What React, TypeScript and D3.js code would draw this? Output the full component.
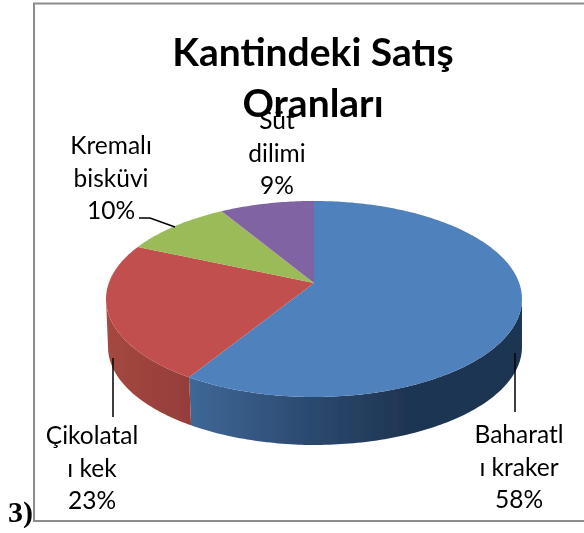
import React from "react";
import * as d3 from "d3";

const categories = ["Baharatlı kraker", "Çikolatalı kek", "Kremalı bisküvi", "Süt dilimi"];
const shares = [58, 23, 10, 9];
const topColors = ["#4f81bd", "#c0504d", "#9bbb59", "#8064a2"];
const titleLines = ["Kantindeki Satış", "Oranları"];
const labelLines = [
  ["Baharatl", "ı kraker", "58%"],
  ["Çikolatal", "ı kek", "23%"],
  ["Kremalı", "bisküvi", "10%"],
  ["Süt", "dilimi", "9%"],
];
const labelAnchors: [number, number][] = [
  [519, 443],
  [92, 444],
  [111, 154],
  [277, 129],
];

const W = 584, H = 533;
const cx = 314, apexY = 283, depth = 48;
const k = 0.163, Rx = 205.2, Ry = 95.4;

// tilted disc: circle angle (clockwise from top) to screen, with perspective
const project = (t: number): [number, number] => {
  const u = Math.sin(t), v = -Math.cos(t);
  const w = 1 - k * v;
  return [cx + (Rx * u) / w, apexY + (Ry * v) / w];
};

// slight angular shift of the chart's 3D view
const warp = (t: number) => t + 0.05 * Math.sqrt(Math.max(0, Math.sin(t / 2)));

const pieGen = d3.pie<number>().sort(null).value((d) => d);
const arcs = pieGen(shares).map((a) => ({
  ...a,
  startAngle: warp(a.startAngle),
  endAngle: warp(a.endAngle),
}));

const linePath = d3.line<[number, number]>().x((d) => d[0]).y((d) => d[1]);

const rim = (a0: number, a1: number) => {
  const n = Math.max(2, Math.ceil((a1 - a0) * 60));
  return d3.range(n + 1).map((i) => project(a0 + ((a1 - a0) * i) / n));
};

const topPath = (a0: number, a1: number) =>
  linePath([[cx, apexY], ...rim(a0, a1)]) + "Z";

// front wall: the part of the rim facing the viewer (between both silhouette angles)
const silhouette = Math.PI / 2 + Math.asin(k);
const wallPath = (a0: number, a1: number) => {
  const s0 = Math.max(a0, silhouette), s1 = Math.min(a1, 2 * Math.PI - silhouette);
  if (s1 <= s0) return null;
  const pts = rim(s0, s1);
  const low = pts.map(([x, y]) => [x + (x < 300 ? 2 : 0), y + depth] as [number, number]).reverse();
  return linePath([...pts, ...low]) + "Z";
};

const leaders: [number, number][][] = [
  [[515, 353], [515, 412]],
  [[113, 358], [113, 417]],
  [[139, 218], [150, 218], [175, 227]],
];

export default function App() {
  return (
    <svg
      width={W}
      height={H}
      viewBox={`0 0 ${W} ${H}`}
      style={{ position: "absolute", left: 0, top: 0, background: "#fff" }}
    >
      <defs>
        <linearGradient id="wall0" gradientUnits="userSpaceOnUse" x1={191} x2={522} y1={0} y2={0}>
          <stop offset="0" stopColor="#3f6797" />
          <stop offset="0.35" stopColor="#2c4a70" />
          <stop offset="0.65" stopColor="#1f3552" />
          <stop offset="1" stopColor="#1f3552" />
        </linearGradient>
        <linearGradient id="wall1" gradientUnits="userSpaceOnUse" x1={106} x2={195} y1={0} y2={0}>
          <stop offset="0" stopColor="#a5483f" />
          <stop offset="0.6" stopColor="#9b413d" />
          <stop offset="1" stopColor="#943d3a" />
        </linearGradient>
        <filter id="soft" x="-5%" y="-5%" width="110%" height="110%">
          <feGaussianBlur stdDeviation="0.45" />
        </filter>
      </defs>
      <g filter="url(#soft)">
        <path d="M34 521V3.5H584" fill="none" stroke="#8c8c8c" strokeWidth={2} />
        <path d="M33 521H584" fill="none" stroke="#8c8c8c" strokeWidth={2} />
        {arcs.map((a, i) => {
          const d = wallPath(a.startAngle, a.endAngle);
          return d ? <path key={categories[i] + "w"} d={d} fill={`url(#wall${i})`} /> : null;
        })}
        {arcs.map((a, i) => (
          <path key={categories[i]} d={topPath(a.startAngle, a.endAngle)} fill={topColors[i]} />
        ))}
        {leaders.map((l, i) => (
          <path key={i} d={linePath(l) ?? ""} fill="none" stroke="#000" strokeWidth={1.5} />
        ))}
        {titleLines.map((t, i) => (
          <text
            key={t}
            x={313}
            y={66 + i * 51}
            textAnchor="middle"
            fontFamily="Lato"
            fontWeight={700}
            fontSize={39}
            fill="#000"
          >
            {t}
          </text>
        ))}
        {labelLines.map((lines, i) =>
          lines.map((t, j) => (
            <text
              key={t}
              x={labelAnchors[i][0]}
              y={labelAnchors[i][1] + j * 32.7}
              textAnchor="middle"
              fontFamily="Lato"
              fontSize={24.5}
              fill="#000"
            >
              {t}
            </text>
          ))
        )}
        <text x={8} y={522} fontFamily="Liberation Serif" fontWeight={700} fontSize={30} fill="#000">
          3)
        </text>
      </g>
    </svg>
  );
}
